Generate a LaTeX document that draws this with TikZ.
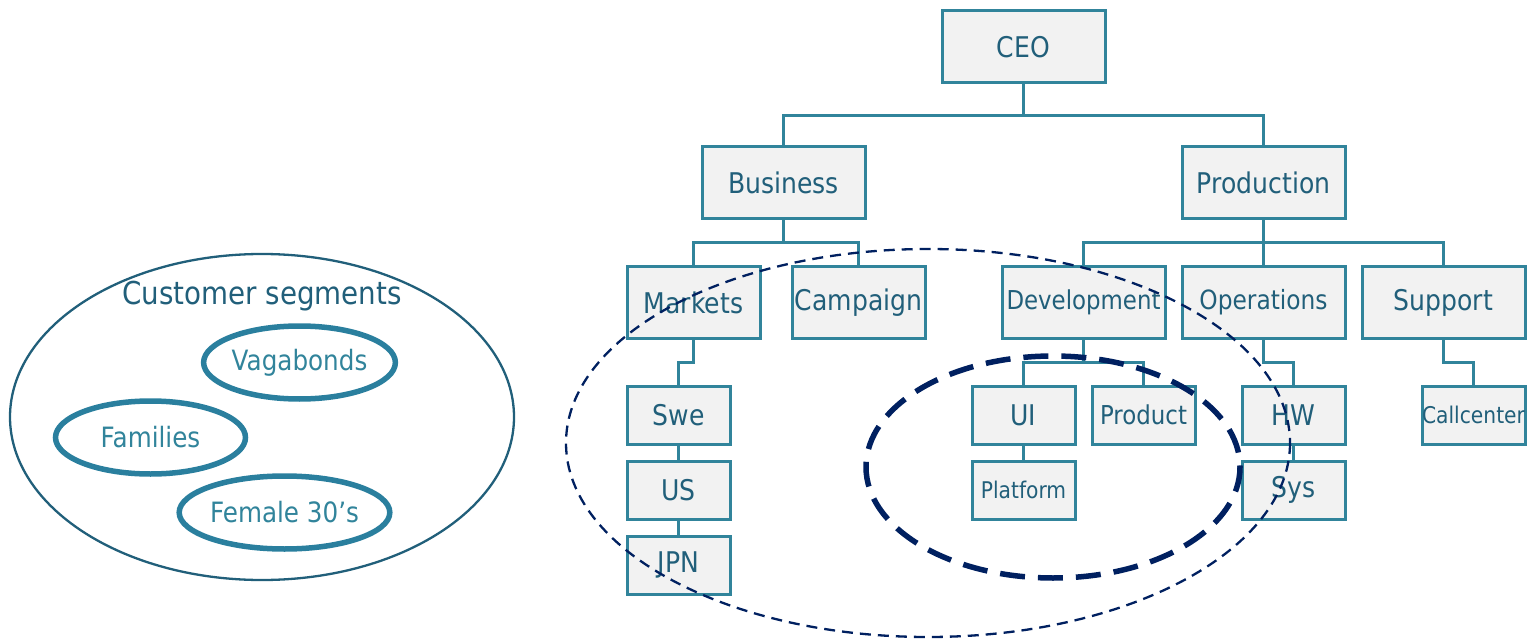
\documentclass[tikz,border=0pt]{standalone}
\usepackage{fontspec}
\setmainfont{DejaVu Sans}[FakeStretch=0.88]
\usetikzlibrary{shapes.geometric}
\definecolor{boxline}{HTML}{31849B}
\definecolor{boxfill}{HTML}{F2F2F2}
\definecolor{boxtext}{HTML}{215F7A}
\definecolor{segline}{HTML}{215F7A}
\definecolor{subline}{HTML}{2A7F9E}
\definecolor{navy}{HTML}{002060}
\newcommand{\fs}[1]{\fontsize{#1}{#1}\selectfont}
\tikzset{
  box/.style={draw=boxline, fill=boxfill, line width=3pt, text=boxtext,
    inner sep=0pt, font=\fs{28.5}},
  bigbox/.style={box, minimum width=163pt, minimum height=72pt},
  midbox/.style={box, minimum width=133pt, minimum height=72pt},
  smallbox/.style={box, minimum width=103pt, minimum height=58pt},
  conn/.style={draw=boxline, line width=3pt},
  segment/.style={ellipse, draw=subline, line width=5.5pt, inner sep=0pt,
    minimum width=190pt, minimum height=73pt, text=boxline, font=\fs{28}},
  thindash/.style={draw=navy, line width=2.3pt, dash pattern=on 11pt off 7pt},
  thickdash/.style={draw=navy, line width=5.5pt, dash pattern=on 25pt off 13pt},
}
\begin{document}
\begin{tikzpicture}[x=1pt, y=-1pt]
\useasboundingbox (0,0) rectangle (1530,644);

% customer segments
\node[ellipse, draw=segline, line width=2.3pt, minimum width=504pt,
  minimum height=326pt, inner sep=0pt] (segments) at (262,417) {};
\node[text=boxtext, font=\fs{31.5}] (segtitle) at (262,296) {Customer segments};
\node[segment] (vagabonds) at (299.5,362.5) {Vagabonds};
\node[segment] (families) at (150.5,437.5) {Families};
\node[segment] (female) at (284.5,512.5) {Female 30’s};

% organisation chart
\node[bigbox] (ceo) at (1023.5,47) {CEO};
\node[bigbox] (business) at (783.5,183) {Business};
\node[bigbox] (production) at (1263.5,183) {Production};

\node[midbox] (markets) at (693.5,302.5) {Markets};
\node[midbox] (campaign) at (858.5,302.5) {Campaign};
\node[bigbox, font=\fs{26}] (development) at (1083.5,302.5) {Development};
\node[bigbox, font=\fs{26.5}] (operations) at (1263.5,302.5) {Operations};
\node[bigbox] (support) at (1443.5,302.5) {Support};

\node[smallbox] (swe) at (678.5,415) {Swe};
\node[smallbox] (us) at (678.5,490) {US};
\node[smallbox] (jpn) at (678.5,565) {JPN};
\node[smallbox] (ui) at (1023.5,415) {UI};
\node[smallbox, font=\fs{26}] (product) at (1143.5,415) {Product};
\node[smallbox, font=\fs{23}] (platform) at (1023.5,490) {Platform};
\node[smallbox] (hw) at (1293.5,415) {HW};
\node[smallbox] (sys) at (1293.5,490) {Sys};
\node[smallbox, font=\fs{23}] (callcenter) at (1473.5,415) {Callcenter};

\draw[conn] (ceo.south) -- ++(0,31) -| (business.north);
\draw[conn] (ceo.south) -- ++(0,31) -| (production.north);
\draw[conn] (business.south) -- ++(0,22) -| (markets.north);
\draw[conn] (business.south) -- ++(0,22) -| (campaign.north);
\draw[conn] (production.south) -- ++(0,22) -| (development.north);
\draw[conn] (production.south) -- (operations.north);
\draw[conn] (production.south) -- ++(0,22) -| (support.north);
\draw[conn] (markets.south) -- ++(0,22) -| (swe.north);
\draw[conn] (swe.south) -- (us.north);
\draw[conn] (us.south) -- (jpn.north);
\draw[conn] (development.south) -- ++(0,22) -| (ui.north);
\draw[conn] (development.south) -- ++(0,22) -| (product.north);
\draw[conn] (ui.south) -- (platform.north);
\draw[conn] (operations.south) -- ++(0,22) -| (hw.north);
\draw[conn] (hw.south) -- (sys.north);
\draw[conn] (support.south) -- ++(0,22) -| (callcenter.north);

% groupings
\draw[thindash] (928,443) ellipse [x radius=362, y radius=194];
\draw[thickdash] (1053,467) ellipse [x radius=187, y radius=111];
\end{tikzpicture}
\end{document}
